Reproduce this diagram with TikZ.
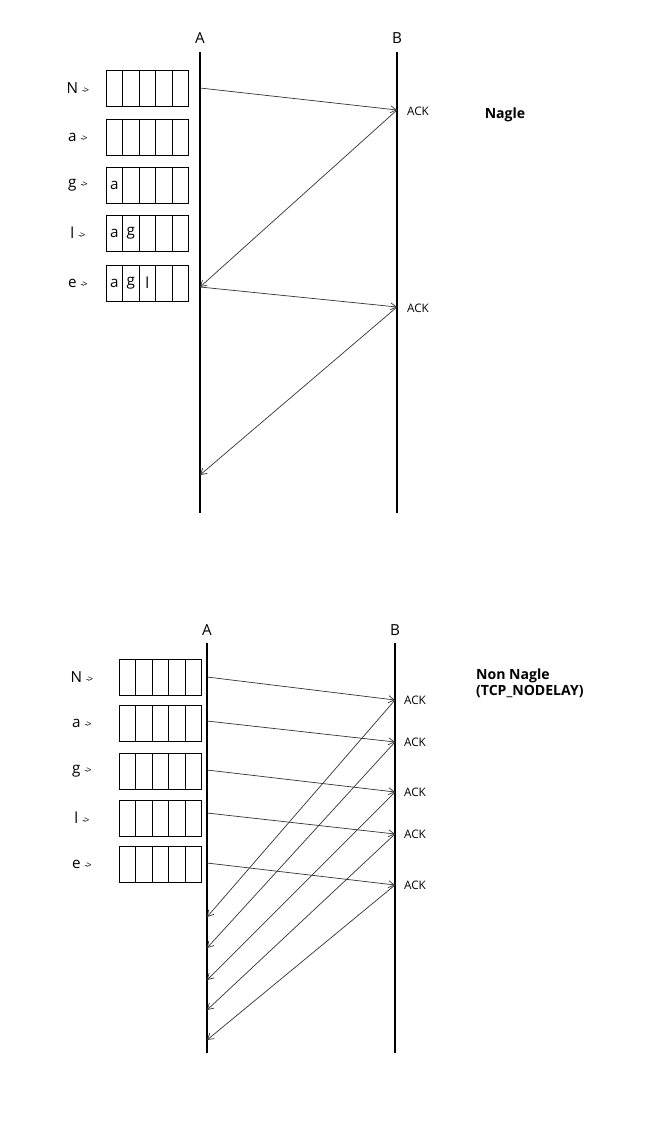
\documentclass[tikz,border=0pt]{standalone}
\usepackage{fontspec}
\setmainfont{Open Sans}
\usetikzlibrary{arrows.meta}

\tikzset{
  life/.style={line width=1.6pt},
  msg/.style={-{Straight Barb[length=5pt,width=6pt]}, line width=0.6pt, black!80},
  cell/.style={draw, line width=0.6pt, minimum width=0.495cm, minimum height=1.08cm, inner sep=0pt, font=\fontsize{13}{13}\selectfont},
  lbl/.style={font=\fontsize{13}{13}\selectfont},
  ack/.style={font=\fontsize{10}{10}\selectfont, anchor=west}
}
\newcommand{\buf}[4]{% name, x, y, letters
  \foreach \c [count=\i] in {#4} {
    \node[cell] (#1\i) at (#2+\i*16.5-8.25, #3) {\c};
  }
}

\begin{document}
\begin{tikzpicture}[x=0.03cm, y=-0.03cm]
  \useasboundingbox (0,0) rectangle (662,1122);

  % ---- Nagle
  \node[lbl] (tA) at (200,38) {A};
  \node[lbl] (tB) at (397,38) {B};
  \draw[life] (200,52) coordinate (Atop) -- (200,513) coordinate (Abot);
  \draw[life] (397,52) coordinate (Btop) -- (397,513) coordinate (Bbot);
  \node[font=\bfseries\fontsize{12}{12}\selectfont] (nagle) at (505,115) {Nagle};

  \foreach \ch/\y [count=\k] in {N/88, a/137, g/185, l/233, e/283}
    \node[lbl] (n\k) at (78,\y) {\ch\ \footnotesize -\kern-1pt>};
  \buf{p1}{106}{88}{,,,,}
  \buf{p2}{106}{137}{,,,,}
  \buf{p3}{106}{185}{a,,,,}
  \buf{p4}{106}{233}{a,g,,,}
  \buf{p5}{106}{283}{a,g,l,,}

  \coordinate (a1) at (200,88);  \coordinate (b1) at (397,110);
  \coordinate (a2) at (200,287); \coordinate (b2) at (397,307);
  \coordinate (a3) at (200,475);
  \draw[msg] (a1) -- (b1);
  \draw[msg] (b1) -- (a2);
  \draw[msg] (a2) -- (b2);
  \draw[msg] (b2) -- (a3);
  \node[ack] (k1) at (403,111) {ACK};
  \node[ack] (k2) at (403,308) {ACK};

  % ---- Non Nagle
  \node[lbl] (uA) at (207,630) {A};
  \node[lbl] (uB) at (395,630) {B};
  \draw[life] (207,643) coordinate (Ctop) -- (207,1053) coordinate (Cbot);
  \draw[life] (395,643) coordinate (Dtop) -- (395,1053) coordinate (Dbot);
  \node[font=\bfseries\fontsize{12}{13}\selectfont, align=left, anchor=north west] (non) at (472,665) {Non Nagle\\(TCP\_NODELAY)};

  \foreach \ch/\y/\ys/\yr/\ye [count=\k] in {N/677/677/700/917, a/723/721/742/948, g/771/770/792/980, l/818/813/834/1010, e/864/863/885/1040} {
    \node[lbl] (m\k) at (82,\y) {\ch\ \footnotesize -\kern-1pt>};
    \buf{q\k}{119}{\y}{,,,,}
    \coordinate (c\k) at (207,\ys);
    \coordinate (d\k) at (395,\yr);
    \coordinate (r\k) at (207,\ye);
    \draw[msg] (c\k) -- (d\k);
    \draw[msg] (d\k) -- (r\k);
    \node[ack] (ak\k) at (400,\yr) {ACK};
  }
\end{tikzpicture}
\end{document}
